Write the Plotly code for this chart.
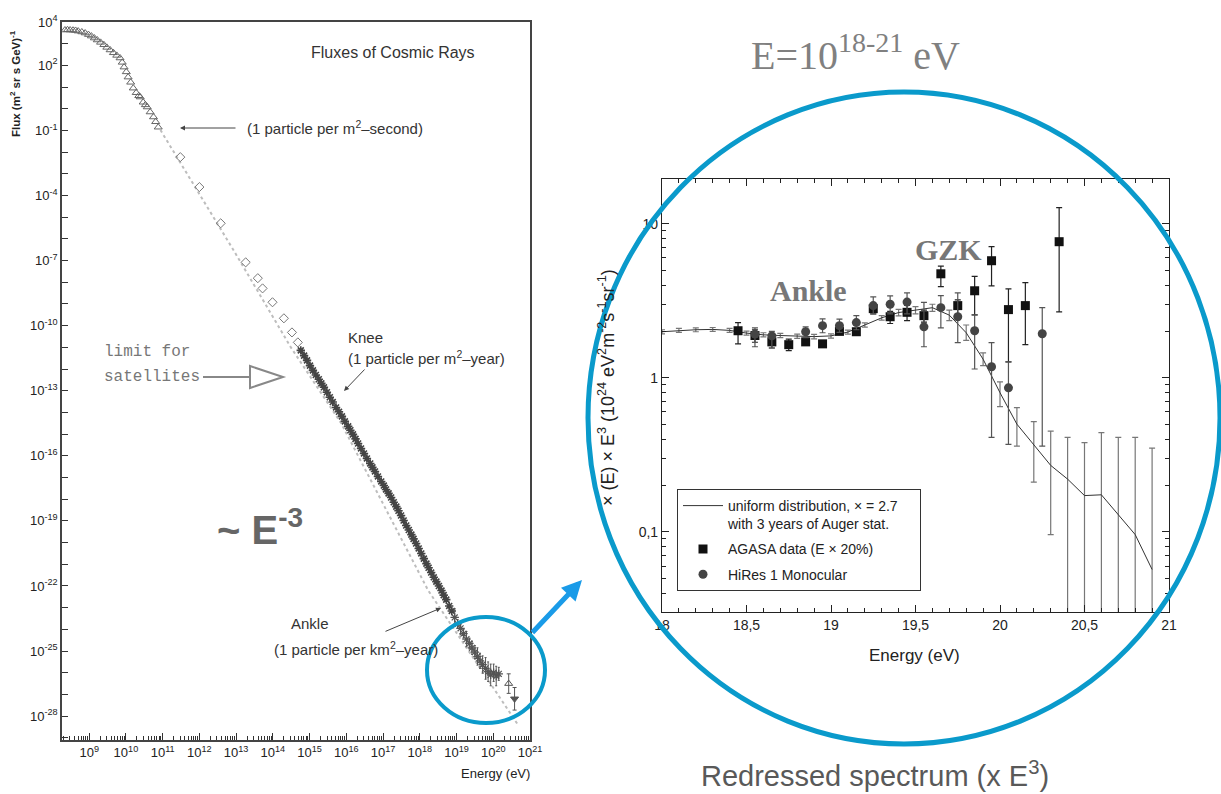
import plotly.graph_objects as go

W, H = 1221, 794


def px(x):
    return x / W


def py(y):
    return 1 - y / H


# ---------------- Left chart: all-particle cosmic-ray flux (log10 values) ----------------
tri_logE = [8.34, 8.41, 8.48, 8.56, 8.63, 8.70, 8.80, 8.89, 8.98, 9.06, 9.14, 9.22, 9.31, 9.40,
            9.48, 9.57, 9.66, 9.75, 9.84, 9.90, 9.95, 10.01, 10.06, 10.13, 10.20, 10.28, 10.35,
            10.39, 10.47, 10.53, 10.58, 10.66, 10.75, 10.81, 10.88]
tri_logF = [3.63, 3.64, 3.63, 3.62, 3.61, 3.58, 3.54, 3.49, 3.42, 3.35, 3.26, 3.17, 3.06, 2.95,
            2.83, 2.71, 2.58, 2.46, 2.34, 2.14, 1.92, 1.70, 1.46, 1.22, 0.95, 0.74, 0.60,
            0.54, 0.30, 0.18, 0.08, -0.15, -0.38, -0.60, -0.85]

dia_logE = [11.48, 12.00, 12.58, 13.26, 13.59, 13.72, 13.99, 14.30, 14.52, 14.68]
dia_logF = [-2.23, -3.61, -5.28, -7.08, -7.81, -8.28, -8.92, -9.66, -10.31, -10.77]

dense_logE = [14.76, 14.85, 14.93, 15.01, 15.09, 15.17, 15.25, 15.32, 15.39, 15.47, 15.55, 15.63,
              15.72, 15.80, 15.88, 15.96, 16.05, 16.11, 16.18, 16.25, 16.32, 16.40, 16.48, 16.56,
              16.65, 16.71, 16.78, 16.86, 16.95, 17.02, 17.08, 17.15, 17.22, 17.29, 17.36, 17.42,
              17.49, 17.56, 17.63, 17.70, 17.77, 17.83, 17.90, 17.97, 18.04, 18.11, 18.18, 18.24,
              18.31, 18.38, 18.45, 18.52, 18.59, 18.65, 18.72, 18.80, 18.87]
dense_logF = [-11.14, -11.38, -11.60, -11.84, -12.06, -12.27, -12.47, -12.66, -12.84, -13.07,
              -13.30, -13.52, -13.77, -13.97, -14.18, -14.41, -14.64, -14.82, -15.01, -15.22,
              -15.43, -15.66, -15.89, -16.12, -16.35, -16.53, -16.72, -16.95, -17.18, -17.37,
              -17.55, -17.73, -17.92, -18.14, -18.34, -18.53, -18.75, -18.98, -19.21, -19.42,
              -19.63, -19.83, -20.04, -20.27, -20.50, -20.74, -20.97, -21.16, -21.38, -21.60,
              -21.80, -22.00, -22.21, -22.42, -22.63, -22.92, -23.15]

ank_logE = [18.95, 19.03, 19.11, 19.19, 19.27, 19.35, 19.42, 19.50, 19.57, 19.64, 19.71, 19.79,
            19.86, 19.93, 20.01, 20.08, 20.15]
ank_logF = [-23.45, -23.75, -23.95, -24.20, -24.45, -24.65, -24.85, -25.05, -25.25, -25.45,
            -25.62, -25.80, -25.95, -26.10, -26.00, -26.15, -26.05]
ank_err = [0.40, 0.20, 0.30, 0.20, 0.35, 0.25, 0.30, 0.30, 0.40, 0.35, 0.40, 0.50, 0.45, 0.50,
           0.40, 0.45, 0.30]

top_logE = [20.42, 20.58]
top_logF = [-26.50, -27.20]
top_err = [0.45, 0.52]

fit_logE = [10.94, 12.93, 14.49, 15.86, 18.23, 20.69]
fit_logF = [-0.98, -6.52, -11.00, -14.50, -22.21, -28.44]

left_xlabels = list(range(9, 22))
left_ylabels = [4, 2, -1, -4, -7, -10, -13, -16, -19, -22, -25, -28]

# ---------------- Right chart: spectrum multiplied by E^3 ----------------
auger_E = [18.0, 18.1, 18.2, 18.3, 18.4, 18.5, 18.6, 18.7, 18.8, 18.9, 19.0, 19.1, 19.2, 19.3,
           19.4, 19.5, 19.6, 19.7, 19.8, 19.9, 20.0, 20.1, 20.2, 20.3, 20.4, 20.5, 20.6, 20.7,
           20.8, 20.9]
auger_J = [1.99, 2.03, 2.05, 2.06, 2.03, 1.95, 1.90, 1.88, 1.86, 1.85, 1.87, 1.98, 2.20, 2.45,
           2.65, 2.75, 2.85, 2.55, 1.96, 1.32, 0.80, 0.50, 0.37, 0.27, 0.22, 0.172, 0.174, 0.13,
           0.096, 0.057]
auger_hi = [2.05, 2.09, 2.11, 2.12, 2.09, 2.01, 1.96, 1.94, 1.92, 1.91, 1.93, 2.04, 2.27, 2.53,
            2.78, 2.90, 3.00, 2.75, 2.20, 1.45, 0.94, 0.64, 0.52, 0.45, 0.41, 0.38, 0.44, 0.41,
            0.41, 0.35]
auger_lo = [1.93, 1.97, 1.99, 2.00, 1.97, 1.89, 1.84, 1.82, 1.80, 1.79, 1.81, 1.92, 2.13, 2.37,
            2.52, 2.60, 2.70, 2.35, 1.75, 1.20, 0.65, 0.36, 0.21, 0.096, 0.001, 0.001, 0.001,
            0.001, 0.001, 0.001]

agasa_E = [18.45, 18.55, 18.65, 18.75, 18.85, 18.95, 19.05, 19.15, 19.25, 19.35, 19.45, 19.55,
           19.65, 19.75, 19.85, 19.95, 20.05, 20.15, 20.35]
agasa_J = [2.02, 1.88, 1.71, 1.64, 1.71, 1.66, 2.00, 1.99, 2.81, 2.49, 2.66, 2.53, 4.73, 2.94,
           3.67, 5.75, 2.77, 2.94, 7.64]
agasa_hi = [2.28, 2.05, 1.85, 1.78, 1.80, 1.74, 2.08, 2.08, 3.00, 2.70, 2.95, 2.75, 5.30, 3.20,
            4.55, 7.09, 3.78, 4.14, 12.70]
agasa_lo = [1.66, 1.70, 1.56, 1.50, 1.62, 1.58, 1.92, 1.90, 2.60, 2.25, 2.35, 2.30, 3.90, 2.49,
            2.56, 3.95, 1.27, 1.64, 2.68]

hires_E = [18.55, 18.65, 18.85, 18.95, 19.05, 19.15, 19.25, 19.35, 19.45, 19.55, 19.65, 19.75,
           19.85, 19.95, 20.05, 20.25]
hires_J = [1.92, 1.87, 1.99, 2.18, 2.18, 2.28, 2.94, 3.00, 3.10, 2.14, 2.85, 2.49, 2.02, 1.18,
           0.86, 1.93]
hires_hi = [2.11, 2.00, 2.14, 2.41, 2.40, 2.53, 3.35, 3.40, 3.56, 3.09, 3.41, 3.56, 2.56, 1.69,
            1.27, 2.85]
hires_lo = [1.59, 1.56, 1.82, 1.96, 1.97, 2.05, 2.60, 2.60, 2.60, 1.59, 2.11, 1.69, 1.14, 0.41,
            0.37, 0.36]

right_xticks = [18, 18.5, 19, 19.5, 20, 20.5, 21]
right_xlabels = ["18", "18,5", "19", "19,5", "20", "20,5", "21"]
right_yticks = [0.1, 1, 10]
right_ylabels = ["0,1", "1", "10"]

SANS = "Liberation Sans, Arial, sans-serif"
SERIF = "Liberation Serif, Times New Roman, serif"
MONO = "Liberation Mono, Courier New, monospace"
BLUE = "#0a9acb"


def p10(vals):
    return [10.0 ** v for v in vals]


def up_err(logv, e):
    return [10.0 ** (v + d) - 10.0 ** v for v, d in zip(logv, e)]


def dn_err(logv, e):
    return [10.0 ** v - 10.0 ** (v - d) for v, d in zip(logv, e)]


fig = go.Figure()

# ---- left traces
fig.add_trace(go.Scatter(x=p10(fit_logE), y=p10(fit_logF), mode="lines",
                         line=dict(color="#bdbdbd", width=2, dash="dot"),
                         showlegend=False, xaxis="x", yaxis="y"))
fig.add_trace(go.Scatter(x=p10(tri_logE), y=p10(tri_logF), mode="markers",
                         marker=dict(symbol="triangle-up-open", size=7, color="#666",
                                     line=dict(width=1)),
                         showlegend=False, xaxis="x", yaxis="y"))
fig.add_trace(go.Scatter(x=p10(dia_logE), y=p10(dia_logF), mode="markers",
                         marker=dict(symbol="diamond-open", size=7, color="#777",
                                     line=dict(width=1)),
                         showlegend=False, xaxis="x", yaxis="y"))
fig.add_trace(go.Scatter(x=p10(dense_logE), y=p10(dense_logF), mode="markers",
                         marker=dict(symbol="asterisk-open", size=7, color="#444",
                                     line=dict(width=1.6, color="#444")),
                         showlegend=False, xaxis="x", yaxis="y"))
fig.add_trace(go.Scatter(x=p10(ank_logE), y=p10(ank_logF), mode="markers",
                         marker=dict(symbol="asterisk-open", size=7, color="#555",
                                     line=dict(width=1.2, color="#555")),
                         error_y=dict(type="data", symmetric=False,
                                      array=up_err(ank_logF, ank_err),
                                      arrayminus=dn_err(ank_logF, ank_err),
                                      color="#555", thickness=1, width=1),
                         showlegend=False, xaxis="x", yaxis="y"))
fig.add_trace(go.Scatter(x=p10(top_logE), y=p10(top_logF), mode="markers",
                         marker=dict(symbol=["triangle-up-open", "triangle-down"], size=7,
                                     color="#555", line=dict(width=1, color="#555")),
                         error_y=dict(type="data", symmetric=False,
                                      array=up_err(top_logF, top_err),
                                      arrayminus=dn_err(top_logF, top_err),
                                      color="#555", thickness=1, width=2),
                         showlegend=False, xaxis="x", yaxis="y"))

# ---- right traces
fig.add_trace(go.Scatter(x=auger_E, y=auger_J, mode="lines",
                         line=dict(color="#333", width=1),
                         error_y=dict(type="data", symmetric=False,
                                      array=[h - v for h, v in zip(auger_hi, auger_J)],
                                      arrayminus=[v - l for v, l in zip(auger_J, auger_lo)],
                                      color="#777", thickness=1.2, width=3),
                         name="uniform distribution, \u00d7 = 2.7&nbsp;&nbsp;&nbsp;&nbsp;"
                              "<br>with 3 years of Auger stat.",
                         legendgroup="a", xaxis="x2", yaxis="y2"))
fig.add_trace(go.Scatter(x=agasa_E, y=agasa_J, mode="markers",
                         marker=dict(symbol="square", size=9, color="#111"),
                         error_y=dict(type="data", symmetric=False,
                                      array=[h - v for h, v in zip(agasa_hi, agasa_J)],
                                      arrayminus=[v - l for v, l in zip(agasa_J, agasa_lo)],
                                      color="#222", thickness=1.2, width=3),
                         name="AGASA data (E \u00d7 20%)", legendgroup="b",
                         xaxis="x2", yaxis="y2"))
fig.add_trace(go.Scatter(x=hires_E, y=hires_J, mode="markers",
                         marker=dict(symbol="circle", size=9, color="#444"),
                         error_y=dict(type="data", symmetric=False,
                                      array=[h - v for h, v in zip(hires_hi, hires_J)],
                                      arrayminus=[v - l for v, l in zip(hires_J, hires_lo)],
                                      color="#555", thickness=1.2, width=3),
                         name="HiRes 1 Monocular", legendgroup="c", xaxis="x2", yaxis="y2"))

# ---- axes
left_xtv = [10.0 ** n for n in left_xlabels]
left_xtt = ["10<sup>%d</sup>" % n for n in left_xlabels]
left_xminor = [k * 10.0 ** n for n in range(8, 21) for k in range(2, 10)]
left_ytv = [10.0 ** n for n in left_ylabels]
left_ytt = ["10<sup>%d</sup>" % n for n in left_ylabels]
left_yminor = [10.0 ** n for n in range(4, -30, -1) if n not in left_ylabels]

axis_font = dict(family=SANS, size=13, color="#222")
raxis_font = dict(family=SANS, size=14, color="#222")

fig.update_layout(
    width=W, height=H,
    margin=dict(l=0, r=0, t=0, b=0, autoexpand=False),
    paper_bgcolor="white", plot_bgcolor="white",
    xaxis=dict(domain=[px(62), px(530)], anchor="y", type="log", range=[8.26, 21.0],
               automargin=False,
               tickmode="array", tickvals=left_xtv, ticktext=left_xtt, ticks="inside",
               ticklen=7, tickcolor="#333", showline=True, linecolor="#444", linewidth=1.5,
               mirror=True, showgrid=False, zeroline=False, tickfont=axis_font,
               minor=dict(tickmode="array", tickvals=left_xminor, ticks="inside",
                          ticklen=4, tickcolor="#333", showgrid=False)),
    yaxis=dict(domain=[py(740), py(22)], anchor="x", type="log", range=[-29.1, 4.0],
               automargin=False,
               tickmode="array", tickvals=left_ytv, ticktext=left_ytt, ticks="inside",
               ticklen=6, tickcolor="#333", showline=True, linecolor="#444", linewidth=1.5,
               mirror=True, showgrid=False, zeroline=False, tickfont=axis_font,
               minor=dict(tickmode="array", tickvals=left_yminor, ticks="inside",
                          ticklen=6, tickcolor="#333", showgrid=False)),
    xaxis2=dict(domain=[px(662), px(1169)], anchor="y2", range=[18, 21],
                automargin=False,
                tickmode="array", tickvals=right_xticks, ticktext=right_xlabels,
                ticks="inside", ticklen=7, tickcolor="#222", showline=True,
                linecolor="#222", linewidth=1.2, mirror="ticks", showgrid=False,
                zeroline=False, tickfont=raxis_font,
                minor=dict(dtick=0.1, tick0=18, ticks="inside", ticklen=4,
                           tickcolor="#222", showgrid=False)),
    yaxis2=dict(domain=[py(612), py(179)], anchor="x2", type="log", range=[-1.52, 1.29],
                automargin=False,
                tickmode="array", tickvals=right_yticks, ticktext=right_ylabels,
                ticks="inside", ticklen=7, tickcolor="#222", showline=True,
                linecolor="#222", linewidth=1.2, mirror="ticks", showgrid=False,
                zeroline=False, tickfont=raxis_font,
                minor=dict(tickmode="array",
                           tickvals=[k / 100 for k in range(4, 10)] + [k / 10 for k in range(2, 10)]
                           + list(range(2, 10)) + [20],
                           ticks="inside", ticklen=4, tickcolor="#222", showgrid=False)),
    legend=dict(x=px(677), y=py(489), xanchor="left", yanchor="top",
                bordercolor="#333", borderwidth=1, bgcolor="white",
                font=dict(family=SANS, size=14, color="#222"), itemwidth=40,
                tracegroupgap=4, valign="top"),
)

ann = []


def text(x, y, t, size, color="#333", family=SANS, xanchor="center", angle=0):
    ann.append(dict(x=px(x), y=py(y), xref="paper", yref="paper", text=t, showarrow=False,
                    xanchor=xanchor, yanchor="middle", textangle=angle,
                    font=dict(family=family, size=size, color=color)))


def arrow(hx, hy, tx, ty, color="#444", width=1, head=2, size=1.0):
    ann.append(dict(x=px(hx), y=py(hy), xref="paper", yref="paper", text="",
                    showarrow=True, ax=tx - hx, ay=ty - hy, arrowhead=head,
                    arrowsize=size, arrowwidth=width, arrowcolor=color))


text(393, 53, "Fluxes of Cosmic Rays", 16)
text(245, 128, "(1 particle per m<sup>2</sup>\u2013second)", 15, xanchor="left")
arrow(180, 128, 237, 128)
text(346, 337, "Knee", 15, xanchor="left")
text(346, 357, "(1 particle per m<sup>2</sup>\u2013year)", 15, xanchor="left")
arrow(344, 391, 366, 368)
text(310, 623, "Ankle", 15)
text(272, 648, "(1 particle per km<sup>2</sup>\u2013year)", 15, xanchor="left")
arrow(441, 608, 384, 632)
text(102, 352, "limit for", 16, color="#777", family=MONO, xanchor="left")
text(102, 377, "satellites", 16, color="#777", family=MONO, xanchor="left")
text(215, 527, "<b>~ E<sup>-3</sup></b>", 40, color="#666", xanchor="left")
text(15, 84, "<b>Flux (m<sup>2</sup> sr s GeV)<sup>-1</sup></b>", 11.5, color="#222", angle=-90)
text(495, 773, "Energy (eV)", 13, color="#222")

text(808, 290, "<b>Ankle</b>", 30, color="#777", family=SERIF)
text(948, 250, "<b>GZK</b>", 30, color="#777", family=SERIF)
text(606, 388, "\u00d7 (E) \u00d7 E<sup>3</sup> (10<sup>24</sup> eV<sup>2</sup>m<sup>-2</sup>"
     "s<sup>-1</sup>sr<sup>-1</sup>)", 18, color="#222", angle=-90)
text(914, 655, "Energy (eV)", 17, color="#222")
text(855, 53, "E=10<sup>18-21</sup> eV", 40, color="#808080", family=SERIF)
text(875, 774, "Redressed spectrum (x E<sup>3</sup>)", 29, color="#595959")
arrow(582, 580, 531, 634, color="#1a9be8", width=5, head=2, size=0.8)

fig.update_layout(annotations=ann)

shapes = [
    dict(type="circle", xref="paper", yref="paper", x0=px(588), x1=px(1220), y0=py(744),
         y1=py(92), line=dict(color=BLUE, width=5)),
    dict(type="circle", xref="paper", yref="paper", x0=px(427), x1=px(545), y0=py(723),
         y1=py(617), line=dict(color=BLUE, width=4)),
    dict(type="line", xref="paper", yref="paper", x0=px(203), x1=px(250), y0=py(377),
         y1=py(377), line=dict(color="#888", width=2)),
    dict(type="path", xref="paper", yref="paper",
         path="M %f %f L %f %f L %f %f Z" % (px(250), py(366), px(283), py(377), px(250), py(388)),
         fillcolor="white", line=dict(color="#888", width=2)),
]
fig.update_layout(shapes=shapes)

fig.write_html("out.html", config={"displayModeBar": False},
               post_script="document.body.style.margin='0';")
